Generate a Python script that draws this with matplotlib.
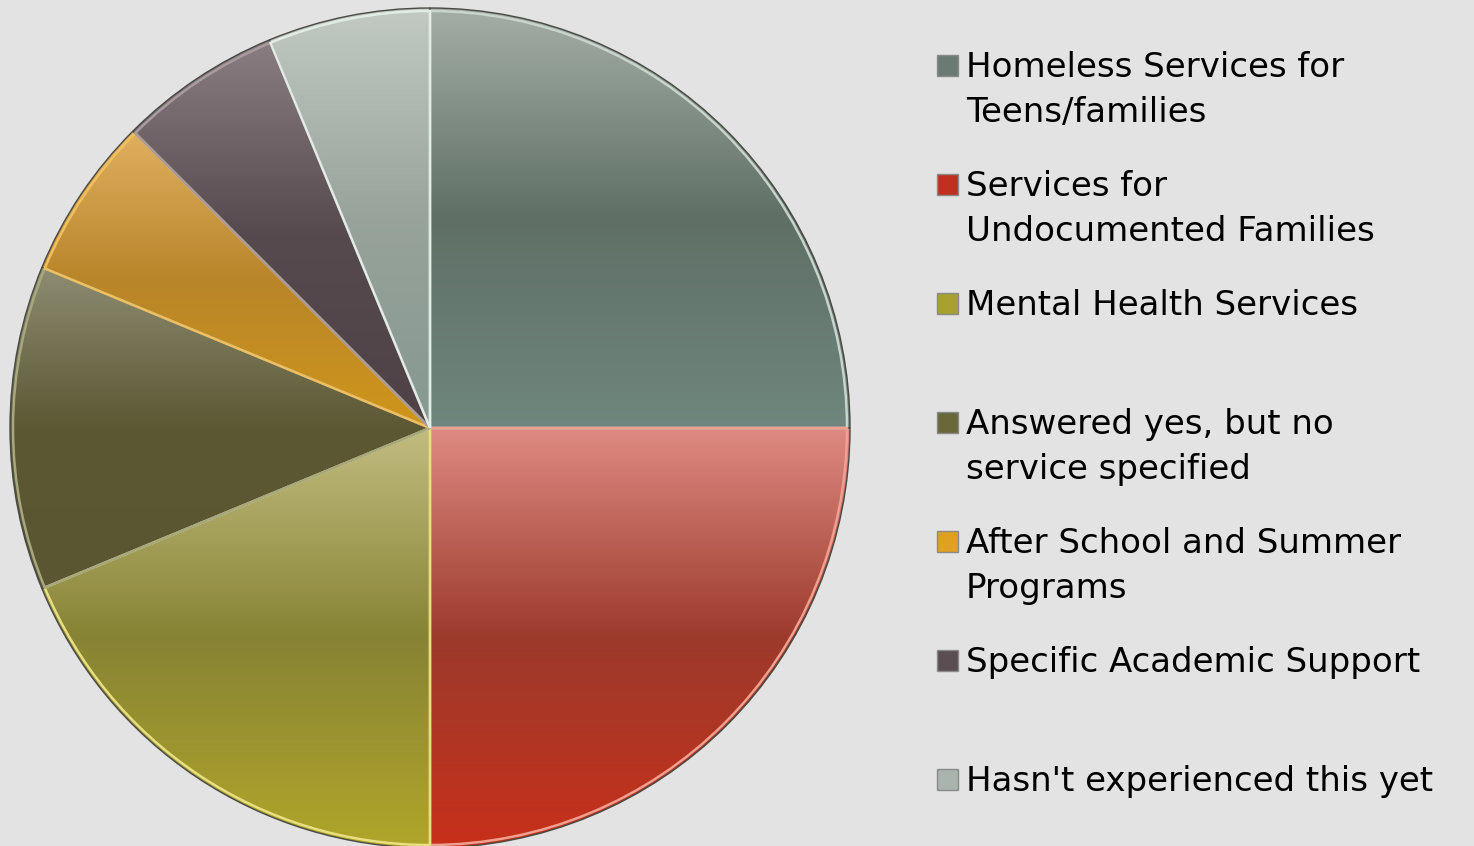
import numpy as np
import matplotlib.pyplot as plt
from matplotlib.colors import to_rgb
from matplotlib.patches import Rectangle, Wedge

labels = ['Homeless Services for\nTeens/families',
          'Services for\nUndocumented Families',
          'Mental Health Services',
          'Answered yes, but no\nservice specified',
          'After School and Summer\nPrograms',
          'Specific Academic Support',
          "Hasn't experienced this yet"]
values = [4, 4, 3, 2, 1, 1, 1]

# top / middle / bottom colours of each slice's gradient
grads = [('#a3aea6', '#5f6f66', '#6f877e'),
         ('#de8a82', '#9c3a2c', '#c8301a'),
         ('#c2bc80', '#878334', '#b0a62a'),
         ('#8e8c72', '#5c5834', '#5a5632'),
         ('#e0b060', '#b8852a', '#d0961a'),
         ('#8a7e82', '#564a4e', '#4e4246'),
         ('#c2cac2', '#97a39b', '#869890')]
edges = ['#c8d4cc', '#f0a090', '#e8e080', '#a8a880', '#f0c060', '#a89ca0', '#e0ece4']
swatch = ['#6b7a72', '#c03020', '#a8a030', '#6a6838', '#e0a020', '#5a4e52', '#a8b4ac']

W, H = 1474, 846
fig = plt.figure(figsize=(W / 100, H / 100), dpi=100)
fig.patch.set_facecolor('#e3e3e3')
ax = fig.add_axes([0, 0, 1, 1])
ax.set_facecolor('#e3e3e3')

wedges, _ = ax.pie(values, center=(430, H - 428), radius=420, startangle=90,
                   counterclock=False, colors=[g[1] for g in grads],
                   wedgeprops=dict(edgecolor='none'))

for w, g, ec in zip(wedges, grads, edges):
    bb = w.get_path().get_extents()
    t = np.linspace(0, 1, 256)[:, None]
    top, mid, bot = (np.array(to_rgb(c)) for c in g)
    col = np.where(t < 0.5, top + (mid - top) * (t / 0.5),
                   mid + (bot - mid) * ((t - 0.5) / 0.5))
    img = col[:, None, :]
    im = ax.imshow(img, extent=[bb.x0, bb.x1, bb.y0, bb.y1], aspect='auto',
                   interpolation='bilinear', zorder=2)
    im.set_clip_path(w)
    w.set_zorder(1)
    # dark rim plus a light bevel just inside it
    ax.add_patch(Wedge(w.center, w.r, w.theta1, w.theta2, facecolor='none',
                       edgecolor='#4a4a44', linewidth=1.0, zorder=3))
    ax.add_patch(Wedge(w.center, w.r - 3, w.theta1, w.theta2, facecolor='none',
                       edgecolor=ec, linewidth=1.8, zorder=3))

ax.set_xlim(0, W)
ax.set_ylim(0, H)
ax.set_aspect('equal')
ax.axis('off')

# legend, one slot per entry
for i, (lab, c) in enumerate(zip(labels, swatch)):
    base = H - 77 - 119 * i
    ax.add_patch(Rectangle((937, base + 1), 21, 21, facecolor=c,
                           edgecolor='#8a8a8a', linewidth=1, zorder=4))
    for k, line in enumerate(lab.split('\n')):
        ax.text(966, base - 45 * k, line, fontsize=24.5, family='DejaVu Sans',
                color='black', va='baseline', ha='left')

plt.savefig('out.png', dpi=100, facecolor=fig.get_facecolor())
plt.close()
